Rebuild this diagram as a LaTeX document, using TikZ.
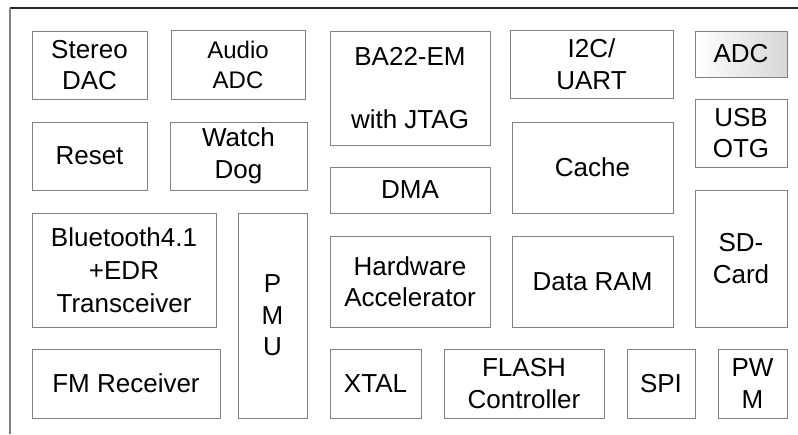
\documentclass[tikz,border=0pt]{standalone}
\usepackage{fontspec}
\setmainfont{Liberation Sans}
\begin{document}
\begin{tikzpicture}[x=1pt,y=-1pt,
  blk/.style={draw=black!50, line width=1pt, inner sep=0pt, outer sep=0pt,
    align=center, font=\fontsize{26}{31.5}\selectfont,
    append after command={[draw=black!78,line width=1.1pt]
      (\tikzlastnode.south west) -- (\tikzlastnode.south east) -- (\tikzlastnode.north east)}},
  sz/.style 2 args={minimum width=#1pt, minimum height=#2pt}]
\path[use as bounding box] (0,0) rectangle (798,434);
\fill[white] (0,0) rectangle (798,434);
% outer frame (only top and left edges visible)
\draw[black!85, line width=1.2pt] (10,8) -- (798,8);
\draw[black!50, line width=1.2pt] (10,8) -- (10,434);

\node[blk, sz={115}{68}] (sdac) at (89.5,65) {Stereo\\DAC};
\node[blk, sz={134}{69}, font=\fontsize{24}{30}\selectfont] (aadc) at (238,64.5) {Audio\\ADC};
\node[blk, sz={115}{68}] (reset) at (89.5,156) {Reset};
\node[blk, sz={137}{68}] (wdog) at (238.5,156) {Watch\\Dog};
\node[blk, sz={160}{114}] (ba22) at (410,88) {BA22-EM\\[31.5pt]with JTAG};
\node[blk, sz={160}{46}] (dma) at (410,190) {DMA};
\node[blk, sz={163}{68}] (i2c) at (591.5,64) {I2C/\\UART};
\node[blk, sz={161}{91}] (cache) at (592.5,167.5) {Cache};
\node[blk, sz={92}{46}, left color=white, right color=black!16] (adc) at (741,54) {ADC};
\node[blk, sz={92}{68}] (usb) at (741,133) {USB\\OTG};
\node[blk, sz={92}{137}] (sd) at (741,258.5) {SD-\\Card};
\node[blk, sz={184}{114}, font=\fontsize{26}{33}\selectfont] (bt) at (124,270) {Bluetooth4.1\\+EDR\\Transceiver};
\node[blk, sz={69}{205}] (pmu) at (272.5,315.5) {P\\M\\U};
\node[blk, sz={188}{69}] (fm) at (126,383.5) {FM Receiver};
\node[blk, sz={160}{91}] (hw) at (410,281.5) {Hardware\\Accelerator};
\node[blk, sz={161}{91}] (ram) at (592.5,281.5) {Data RAM};
\node[blk, sz={91}{69}] (xtal) at (375.5,383.5) {XTAL};
\node[blk, sz={160}{69}] (flash) at (524,383.5) {FLASH\\Controller};
\node[blk, sz={68}{69}] (spi) at (661,383.5) {SPI};
\node[blk, sz={69}{69}] (pwm) at (752.5,383.5) {PW\\M};
\end{tikzpicture}
\end{document}
